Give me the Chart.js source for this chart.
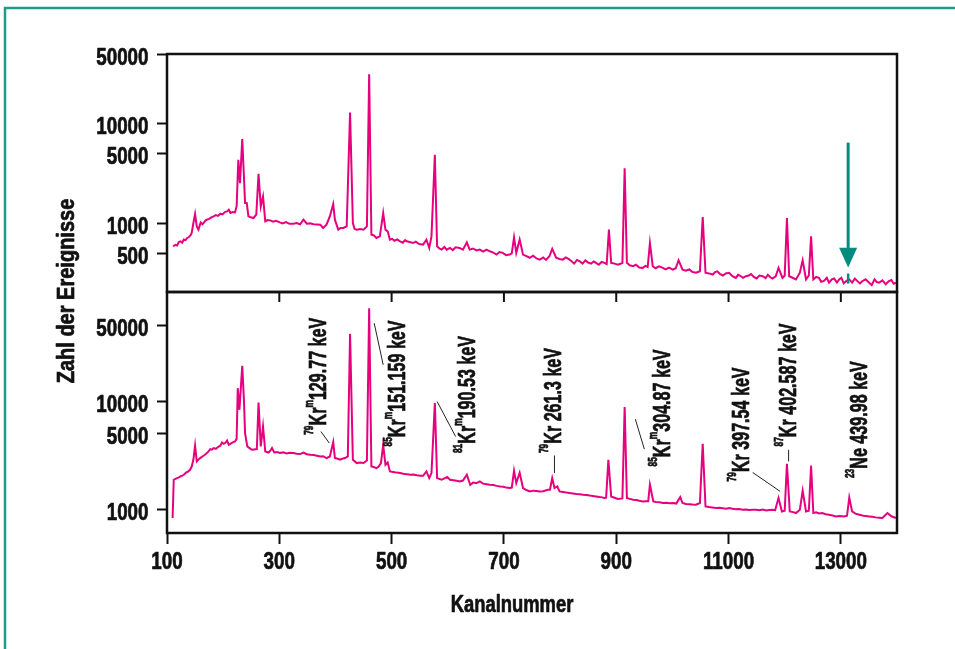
<!DOCTYPE html>
<html><head><meta charset="utf-8">
<script src="https://cdn.jsdelivr.net/npm/chart.js@4/dist/chart.umd.min.js"></script>
<style>
html,body{margin:0;padding:0;background:#fff;}
#wrap{position:relative;width:955px;height:649px;overflow:hidden;background:#fff;}
canvas{position:absolute;left:0;top:0;}
</style></head><body>
<div id="wrap"><canvas id="cTop" width="955" height="649"></canvas><canvas id="cBot" width="955" height="649"></canvas></div>
<script>
// ---------- data ----------
const xTickValues = [100, 300, 500, 700, 900, 1100, 1300];
const xTickLabels = ['100', '300', '500', '700', '900', '11000', '13000'];
const topYTicks = [500, 1000, 5000, 10000, 50000];
const botYTicks = [1000, 5000, 10000, 50000];

const topChannels = [
 111,115,118,121,124,127,130,133,136,139,142,144,147,150,153,156,160,163,165,168,
 171,175,179,183,187,191,195,199,203,207,210,213,217,221,224,227,230,234,237,239,
 242,245,249,254,259,263,267,271,275,279,284,289,294,301,306,312,318,325,331,337,
 343,349,355,361,367,373,378,384,390,396,399,405,409,414,420,426,431,434,438,444,
 450,456,460,464,468,473,479,485,489,493,497,501,505,510,515,520,524,527,532,538,
 543,549,556,562,567,571,577,581,585,589,594,598,604,609,614,621,627,634,639,645,
 651,657,663,669,675,681,687,692,698,704,710,714,718,722,728,734,740,746,752,758,
 764,770,775,781,786,793,799,805,810,815,820,825,830,835,840,845,850,855,860,864,
 869,874,879,883,887,891,897,903,911,915,919,924,930,935,941,947,952,956,960,965,
 970,976,983,988,994,1001,1006,1011,1018,1024,1030,1036,1042,1049,1054,1059,1065,1072,1076,1080,
 1085,1090,1095,1101,1107,1113,1117,1120,1126,1131,1136,1140,1145,1150,1155,1161,1166,1170,1174,1178,
 1184,1189,1196,1200,1204,1208,1214,1220,1227,1232,1238,1243,1247,1251,1256,1261,1265,1270,1275,1279,
 1284,1288,1293,1297,1301,1305,1310,1315,1320,1325,1330,1334,1338,1344,1350,1355,1360,1364,1368,1374,
 1380,1385,1390,1394,1398
];
const topCounts = [
 589,610,600,650,661,640,690,680,714,730,760,802,1009,1242,933,865,1023,980,1009,1060,
 1089,1110,1150,1175,1210,1190,1250,1230,1300,1318,1371,1271,1300,1288,1479,4335,2535,7031,2951,1600,
 1600,1175,1150,1132,1222,3141,1479,1862,1047,1080,1072,1040,1060,1023,1000,1030,990,993,1010,980,
 1089,993,1000,980,975,970,899,970,1175,1563,1089,865,900,899,933,12940,1009,880,865,880,
 865,933,31260,771,760,714,741,1271,865,832,687,700,670,690,661,640,680,661,650,635,
 655,620,612,687,567,741,4864,589,560,546,580,545,567,540,575,567,545,646,546,560,
 535,546,520,545,525,510,487,515,506,480,487,500,724,506,687,487,470,452,475,445,
 433,455,430,468,555,452,440,433,455,440,420,395,430,417,395,425,405,395,415,402,
 385,410,402,390,865,402,395,386,400,3581,402,380,372,385,360,358,375,365,635,372,
 355,370,358,345,360,344,355,427,344,335,345,325,320,331,1159,320,315,307,325,330,
 310,300,315,320,295,284,305,300,285,295,300,310,290,280,300,295,282,305,290,280,
 295,358,284,300,1132,295,285,274,320,427,274,300,741,274,290,284,260,265,285,254,
 275,280,255,274,285,250,265,274,255,280,262,250,263,275,255,240,275,258,254,268,
 245,262,270,248,254
];

const botChannels = [
 110,112,115,118,121,124,127,130,134,138,141,144,147,150,153,156,159,163,167,171,
 174,177,180,183,187,192,195,198,201,204,207,210,214,218,221,224,226,229,234,237,
 239,243,247,251,255,260,263,267,271,275,281,284,287,291,296,301,307,313,319,325,
 331,337,343,349,355,361,367,373,378,384,390,396,399,404,408,412,417,422,426,431,
 438,444,450,456,460,464,468,473,477,481,485,489,493,497,503,509,515,521,527,533,
 539,545,551,556,562,567,571,577,581,589,594,599,604,610,616,621,627,634,640,645,
 651,657,663,669,675,681,687,693,699,704,710,714,718,722,728,734,740,746,752,758,
 764,770,778,782,786,790,795,799,805,811,817,823,829,835,841,847,853,858,864,870,
 875,879,882,886,891,897,903,911,915,919,924,930,936,941,947,953,957,960,966,971,
 977,983,989,995,1001,1007,1014,1018,1024,1030,1036,1042,1049,1054,1059,1065,1071,1078,1084,1090,
 1096,1101,1107,1113,1119,1125,1131,1137,1143,1149,1155,1161,1167,1173,1178,1183,1189,1195,1200,1204,
 1209,1215,1220,1227,1232,1238,1243,1247,1251,1256,1261,1267,1273,1279,1285,1291,1298,1306,1311,1315,
 1320,1326,1333,1340,1345,1350,1356,1362,1368,1374,1383,1390,1398
];
const botCounts = [
 838,1890,1930,1959,1990,2028,2060,2102,2200,2260,2337,2500,2890,3913,2787,2900,2996,3100,3200,3332,
 3450,3626,3580,3705,3650,3832,3900,4171,4058,4150,4352,3972,4100,4200,4261,4500,13230,8352,21240,10320,
 5092,3832,3700,3573,3600,3626,9750,3832,5857,3446,3373,3500,3705,3373,3400,3332,3380,3300,3350,3332,
 3280,3262,3373,3250,3213,3200,3150,3099,3120,2996,3099,4207,2996,2950,2890,2950,2996,3099,41890,2890,
 2694,2720,2694,2847,72270,2506,2480,2423,2500,2694,3972,2598,2729,2254,2230,2200,2179,2150,2130,2102,
 2110,2080,2060,2058,2254,1959,2179,9625,1959,1890,1950,2002,1890,1870,1850,1823,1860,2102,1700,1780,
 1760,1823,1740,1720,1700,1690,1660,1640,1630,1600,1585,1600,2288,1762,2193,1585,1520,1475,1500,1490,
 1475,1480,1529,1530,1960,1585,1640,1475,1460,1440,1425,1415,1400,1390,1375,1370,1350,1340,1326,1310,
 1300,1282,1290,2890,1326,1290,1255,1270,8841,1282,1260,1236,1230,1210,1193,1200,1200,1700,1193,1180,
 1170,1153,1160,1150,1153,1140,1309,1153,1130,1125,1115,1112,1153,4058,1073,1060,1050,1037,1045,1030,
 1020,1037,1020,1010,1015,1000,1005,995,1000,1000,990,1005,985,995,1000,990,1282,965,980,2655,
 965,950,932,1000,1497,965,980,2560,932,945,925,932,910,900,885,868,875,868,880,1298,
 965,920,899,880,875,868,860,850,845,838,932,870,838
];

// peak labels: anchor (channel, counts on lower panel scale) and text parts [text, isSuperscript]
const peakLabels = [
 {ch:384, v:4911, parts:[['79',1],['Kr',0],['m',1],['129.77 keV',0]]},
 {ch:524, v:3832, parts:[['85',1],['Kr',0],['m',1],['151.159 keV',0]]},
 {ch:648, v:3332, parts:[['81',1],['Kr',0],['m',1],['190.53 keV',0]]},
 {ch:802, v:3332, parts:[['79',1],['Kr 261.3 keV',0]]},
 {ch:995, v:2506, parts:[['85',1],['Kr',0],['m',1],['304.87 keV',0]]},
 {ch:1137, v:1823, parts:[['79',1],['Kr 397.54 keV',0]]},
 {ch:1220, v:3832, parts:[['87',1],['Kr 402.587 keV',0]]},
 {ch:1347, v:1960, parts:[['23',1],['Ne 439.98 keV',0]]}
];
const leaderLines = [
 [374, 5270, 389, 4119],
 [469, 52560, 485, 21700],
 [581, 9958, 614, 4738],
 [790, 3166, 790, 2179],
 [934, 6853, 950, 3626],
 [1143, 2207, 1192, 1475],
 [1207, 3573, 1207, 2788]
];
// arrow in upper panel (channel, counts)
const arrowChannel = 1313;
const arrowTopCount = 6457, arrowHeadBase = 570, arrowTip = 360, arrowStubTop = 314, arrowStubBottom = 249;

// ---------- style ----------
const FONT = "'Liberation Sans',Arial,Helvetica,sans-serif";
const PINK = '#e6007e';
const TEAL = '#008c7e';
const INK = '#111';

function pts(xs, ys){ return xs.map((x,i)=>({x:x, y:ys[i]})); }

function condText(ctx, text, x, y, size, sx, align, rot){
  ctx.save();
  ctx.translate(x, y);
  if (rot) ctx.rotate(rot);
  ctx.scale(sx, 1);
  ctx.font = `bold ${size}px ${FONT}`;
  ctx.textAlign = align; ctx.textBaseline = 'alphabetic';
  ctx.fillStyle = INK; ctx.strokeStyle = INK; ctx.lineWidth = 0.7; ctx.lineJoin = 'round';
  ctx.fillText(text, 0, 0);
  ctx.strokeText(text, 0, 0);
  ctx.restore();
}

const boxPlugin = {
  id:'box',
  afterDatasetsDraw(chart){
    const {ctx, chartArea:a} = chart;
    ctx.save();
    ctx.strokeStyle = INK; ctx.lineWidth = 2.5;
    ctx.strokeRect(a.left, a.top, a.right-a.left, a.bottom-a.top);
    ctx.restore();
  },
  afterDraw(chart){
    const {ctx, scales:{y}} = chart;
    const vals = chart.options.scales.y.tickVals;
    vals.forEach(v=>{
      condText(ctx, String(v), 148.5, y.getPixelForValue(v) + 10.5, 23.5, 0.8, 'right');
    });
  }
};

const arrowPlugin = {
  id:'arrow',
  afterDatasetsDraw(chart){
    const {ctx, scales:{x,y}} = chart;
    const px = x.getPixelForValue(arrowChannel);
    ctx.save();
    ctx.strokeStyle = TEAL; ctx.fillStyle = TEAL; ctx.lineWidth = 3;
    ctx.beginPath(); ctx.moveTo(px, y.getPixelForValue(arrowTopCount)); ctx.lineTo(px, y.getPixelForValue(arrowHeadBase)+2); ctx.stroke();
    const hb = y.getPixelForValue(arrowHeadBase), tip = y.getPixelForValue(arrowTip);
    ctx.beginPath(); ctx.moveTo(px-9, hb); ctx.lineTo(px+9, hb); ctx.lineTo(px, tip); ctx.closePath(); ctx.fill();
    ctx.lineWidth = 2.5;
    ctx.beginPath(); ctx.moveTo(px, y.getPixelForValue(arrowStubTop)); ctx.lineTo(px, y.getPixelForValue(arrowStubBottom)); ctx.stroke();
    ctx.restore();
  },
  afterDraw(chart){
    const ctx = chart.ctx;
    ctx.save();
    ctx.strokeStyle = '#1f9a8b'; ctx.lineWidth = 2.5;
    ctx.beginPath(); ctx.moveTo(955, 8); ctx.lineTo(5, 8); ctx.lineTo(5, 649); ctx.stroke();
    ctx.restore();
  }
};

const bottomDecor = {
  id:'bottomDecor',
  afterDatasetsDraw(chart){
    const {ctx, chartArea:a, scales:{x,y}} = chart;
    ctx.save();
    ctx.strokeStyle = INK; ctx.lineWidth = 2;
    xTickValues.forEach(v=>{
      const px = x.getPixelForValue(v);
      ctx.beginPath(); ctx.moveTo(px, a.top); ctx.lineTo(px, a.top+10); ctx.stroke();
    });
    ctx.lineWidth = 1; ctx.strokeStyle = '#222';
    leaderLines.forEach(l=>{
      ctx.beginPath();
      ctx.moveTo(x.getPixelForValue(l[0]), y.getPixelForValue(l[1]));
      ctx.lineTo(x.getPixelForValue(l[2]), y.getPixelForValue(l[3]));
      ctx.stroke();
    });
    ctx.fillStyle = INK; ctx.strokeStyle = INK; ctx.lineWidth = 0.7; ctx.lineJoin = 'round';
    ctx.textBaseline = 'alphabetic'; ctx.textAlign = 'left';
    peakLabels.forEach(lb=>{
      ctx.save();
      ctx.translate(x.getPixelForValue(lb.ch), y.getPixelForValue(lb.v));
      ctx.rotate(-Math.PI/2);
      ctx.scale(0.7, 1);
      let pos = 0;
      lb.parts.forEach(([t, sup])=>{
        ctx.font = sup ? `bold 12px ${FONT}` : `bold 23px ${FONT}`;
        ctx.fillText(t, pos, sup ? -13 : 0);
        ctx.strokeText(t, pos, sup ? -13 : 0);
        pos += ctx.measureText(t).width;
      });
      ctx.restore();
    });
    ctx.restore();
  },
  afterDraw(chart){
    const {ctx, scales:{x}} = chart;
    xTickValues.forEach((v,i)=>{
      condText(ctx, xTickLabels[i], x.getPixelForValue(v), 569, 23.5, 0.8, 'center');
    });
    condText(ctx, 'Kanalnummer', 512, 612, 23, 0.8, 'center');
    condText(ctx, 'Zahl der Ereignisse', 73.5, 291, 23, 0.87, 'center', -Math.PI/2);
  }
};

function yScale(min, max, tickVals){
  return {
    type:'logarithmic', min:min, max:max, tickVals:tickVals,
    afterBuildTicks(s){ s.ticks = tickVals.map(v=>({value:v})); },
    afterFit(s){ s.width = 167; },
    ticks:{display:false, autoSkip:false},
    grid:{drawOnChartArea:false, tickLength:10, tickWidth:2, tickColor:INK},
    border:{display:false}
  };
}

new Chart(document.getElementById('cTop'), {
  type:'line',
  data:{datasets:[{data:pts(topChannels, topCounts), borderColor:PINK, borderWidth:2, pointRadius:0, tension:0, fill:false}]},
  options:{
    responsive:false, animation:false, events:[],
    layout:{padding:{left:0, top:54, right:58, bottom:357}},
    plugins:{legend:{display:false}, tooltip:{enabled:false}},
    scales:{
      x:{type:'linear', min:100, max:1400, display:false},
      y:yScale(205, 50000, topYTicks)
    }
  },
  plugins:[boxPlugin, arrowPlugin]
});

new Chart(document.getElementById('cBot'), {
  type:'line',
  data:{datasets:[{data:pts(botChannels, botCounts), borderColor:PINK, borderWidth:2, pointRadius:0, tension:0, fill:false}]},
  options:{
    responsive:false, animation:false, events:[],
    layout:{padding:{left:0, top:292, right:58, bottom:0}},
    plugins:{legend:{display:false}, tooltip:{enabled:false}},
    scales:{
      x:{type:'linear', min:100, max:1400,
        afterBuildTicks(s){ s.ticks = xTickValues.map(v=>({value:v})); },
        afterFit(s){ s.height = 116; },
        ticks:{display:false, autoSkip:false},
        grid:{drawOnChartArea:false, tickLength:11, tickWidth:2, tickColor:INK},
        border:{display:false}
      },
      y:yScale(610, 102000, botYTicks)
    }
  },
  plugins:[boxPlugin, bottomDecor]
});
</script>
</body></html>
